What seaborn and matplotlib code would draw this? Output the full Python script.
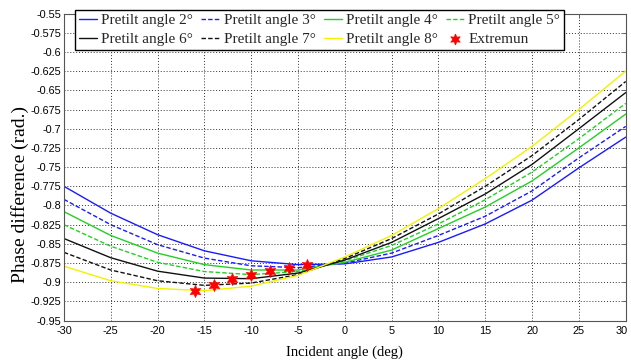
import matplotlib
matplotlib.use("Agg")
import matplotlib.pyplot as plt
import matplotlib.transforms as mtransforms
import numpy as np
import pandas as pd
import seaborn as sns

# ---------------- data ----------------
incident_deg = [-30, -25, -20, -15, -10, -5, 0, 5, 10, 15, 20, 25, 30]

pretilt_2 = [-0.775, -0.810, -0.838, -0.859, -0.872, -0.877, -0.876, -0.867, -0.848, -0.824, -0.793, -0.751, -0.711]
pretilt_3 = [-0.792, -0.825, -0.851, -0.8685, -0.8785, -0.881, -0.875, -0.862, -0.839, -0.814, -0.781, -0.738, -0.697]
pretilt_4 = [-0.808, -0.839, -0.862, -0.877, -0.884, -0.884, -0.874, -0.858, -0.830, -0.802, -0.768, -0.725, -0.681]
pretilt_5 = [-0.825, -0.853, -0.874, -0.886, -0.890, -0.886, -0.872, -0.852, -0.824, -0.7925, -0.7565, -0.713, -0.667]
pretilt_6 = [-0.843, -0.868, -0.8855, -0.8945, -0.8953, -0.888, -0.871, -0.848, -0.817, -0.785, -0.7465, -0.700, -0.653]
pretilt_7 = [-0.861, -0.884, -0.898, -0.904, -0.901, -0.890, -0.869, -0.843, -0.811, -0.775, -0.735, -0.688, -0.6385]
pretilt_8 = [-0.879, -0.898, -0.908, -0.911, -0.905, -0.891, -0.867, -0.839, -0.804, -0.765, -0.723, -0.675, -0.625]

extremum_x = [-16, -14, -12, -10, -8, -6, -4]
extremum_y = [-0.911, -0.904, -0.896, -0.890, -0.885, -0.881, -0.877]

series_labels = ["Pretilt angle 2°", "Pretilt angle 3°", "Pretilt angle 4°", "Pretilt angle 5°",
                 "Pretilt angle 6°", "Pretilt angle 7°", "Pretilt angle 8°"]
extremum_label = "Extremun"

x_ticks = [-30, -25, -20, -15, -10, -5, 0, 5, 10, 15, 20, 25, 30]
y_tick_labels = ["-0.95", "-0.925", "-0.9", "-0.875", "-0.85", "-0.825", "-0.8", "-0.775",
                 "-0.75", "-0.725", "-0.7", "-0.675", "-0.65", "-0.625", "-0.6", "-0.575", "-0.55"]

# ---------------- styling ----------------
sns.set_theme(style="white")
plt.rcParams["font.family"] = ["Liberation Sans", "DejaVu Sans"]

colors = ["#1a1aff", "#1a1aff", "#22d022", "#22d022", "#111111", "#111111", "#f2f200"]
styles = ["-", (0, (3.2, 1.6)), "-", (0, (3.2, 1.6)), "-", (0, (3.2, 1.6)), "-"]

fig = plt.figure(figsize=(6.31, 3.62), dpi=100)
ax = fig.add_axes([0.1013, 0.1141, 0.8903, 0.8486])

all_series = [pretilt_2, pretilt_3, pretilt_4, pretilt_5, pretilt_6, pretilt_7, pretilt_8]
for vals, lab, col, ls in zip(all_series, series_labels, colors, styles):
    df = pd.DataFrame({"angle": incident_deg, "phase": vals})
    sns.lineplot(data=df, x="angle", y="phase", ax=ax, color=col, linestyle=ls,
                 linewidth=1.0, label=lab, sort=True, errorbar=None)

ext_df = pd.DataFrame({"angle": extremum_x, "phase": extremum_y})
sns.scatterplot(data=ext_df, x="angle", y="phase", ax=ax, marker=(6, 1, 0), s=75,
                color="#ff0000", edgecolor="#ff0000", linewidth=0.5, label=extremum_label, zorder=5)

ax.set_xlim(-30, 30)
ax.set_ylim(-0.95, -0.55)
ax.set_xticks(x_ticks)
ax.set_xticklabels([str(t) for t in x_ticks])
y_tick_vals = [float(s) for s in y_tick_labels]
ax.set_yticks(y_tick_vals)
ax.set_yticklabels(y_tick_labels)

ax.grid(True, color="#333333", linestyle=(0, (1, 2)), linewidth=0.7)
ax.set_axisbelow(True)

for sp in ax.spines.values():
    sp.set_visible(True)
    sp.set_color("#555555")
    sp.set_linewidth(0.8)

ax.tick_params(axis="both", which="major", direction="in", length=3, width=0.6,
               colors="#555555", labelcolor="black", labelsize=7.8,
               top=True, right=True)
ax.tick_params(axis="x", pad=4)
ax.tick_params(axis="y", pad=2)

# keep the last x tick label inside the figure
last_lbl = ax.get_xticklabels()[-1]
last_lbl.set_transform(last_lbl.get_transform() +
                       mtransforms.ScaledTranslation(-4 / 100, 0, fig.dpi_scale_trans))

ax.set_xlabel("Incident angle (deg)", fontfamily="Liberation Serif", fontsize=10.5,
              color="black", va="center")
ax.xaxis.set_label_coords(0.5, -0.104)
ax.set_ylabel("Phase difference (rad.)", fontfamily="Liberation Serif", fontsize=14,
              color="black", va="center")
ax.yaxis.set_label_coords(-0.079, 0.41)

handles, labels = ax.get_legend_handles_labels()
order = [0, 4, 1, 5, 2, 6, 3, 7]
leg = ax.legend([handles[i] for i in order], [labels[i] for i in order],
                ncol=4, loc="upper left", bbox_to_anchor=(0.02, 1.012),
                borderaxespad=0.0, frameon=True, fancybox=False, shadow=False,
                prop={"family": "Liberation Serif", "size": 11},
                handlelength=1.2, handletextpad=0.25, columnspacing=0.55,
                labelspacing=0.35, borderpad=0.25, markerscale=0.9)
leg.get_frame().set_edgecolor("black")
leg.get_frame().set_linewidth(1.0)
leg.get_frame().set_facecolor("white")
leg.get_frame().set_alpha(1.0)

fig.savefig("out.png", dpi=100)
